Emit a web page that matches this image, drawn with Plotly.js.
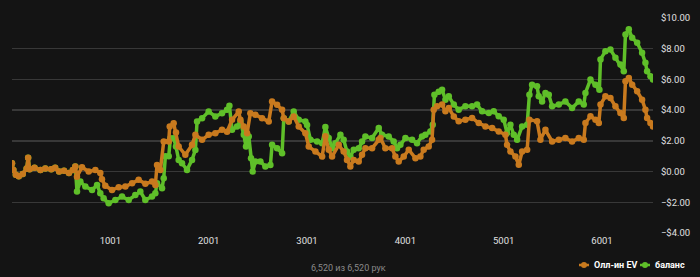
<!DOCTYPE html>
<html><head><meta charset="utf-8">
<script src="https://cdn.plot.ly/plotly-3.0.1.min.js"></script>
<style>html,body{margin:0;padding:0;background:#141414;}#chart{width:700px;height:277px;}</style>
</head><body><div id="chart"></div>
<script>
// Олл-ин EV (all-in EV)
const evHands = [1,15,40,70,110,150,165,180,230,290,340,400,440,480,530,580,620,645,662,713,781,849,899,916,950,1018,1086,1154,1222,1289,1357,1425,1459,1476,1510,1544,1595,1605,1645,1669,1696,1764,1832,1866,1934,2001,2069,2137,2188,2239,2307,2324,2358,2392,2425,2476,2544,2612,2646,2697,2748,2765,2815,2866,2917,2985,3019,3087,3155,3188,3222,3256,3324,3374,3408,3442,3476,3527,3561,3595,3663,3731,3748,3798,3866,3900,3934,3985,4036,4104,4154,4188,4239,4273,4290,4324,4375,4409,4443,4494,4544,4612,4680,4748,4816,4884,4951,5019,5036,5070,5121,5155,5189,5240,5263,5341,5375,5426,5494,5562,5629,5697,5765,5816,5833,5884,5935,5969,5986,6036,6087,6138,6189,6223,6240,6274,6308,6359,6409,6443,6460,6494,6520];
const evValues = [0.55,0.1,-0.2,-0.3,-0.15,0.2,0.9,0.15,0.25,0.1,0.2,0.15,0.25,0.0,0.05,-0.1,0.1,0.33,-0.33,0.28,0.0,0.1,-0.1,-0.5,-0.93,-1.2,-1.02,-0.98,-0.76,-0.54,-0.8,-0.65,-0.87,0.43,0.1,1.96,1.96,2.93,3.15,2.54,1.63,1.09,1.74,2.39,2.07,2.39,2.5,2.72,2.6,3.37,3.91,3.37,2.93,2.5,3.8,3.7,3.48,3.26,4.57,4.35,4.02,3.48,3.26,3.59,2.93,2.5,1.63,1.3,0.98,2.3,1.42,0.98,1.74,1.3,0.76,0.33,0.76,0.65,1.09,1.52,1.52,2.07,2.18,1.52,1.52,0.98,0.65,0.98,1.42,0.87,0.98,1.42,1.63,2.07,4.03,4.25,4.36,3.92,4.14,3.59,3.27,3.38,3.49,3.16,2.94,2.83,2.61,2.4,1.74,1.31,0.98,0.44,1.31,1.42,3.38,3.27,2.07,2.72,1.96,2.07,2.18,1.96,2.18,2.07,3.16,3.6,3.38,3.16,4.36,4.9,4.79,4.25,3.81,3.49,5.88,6.1,5.66,5.23,4.68,4.03,3.49,3.16,2.94];

// баланс (balance)
const balHands = [1,15,40,70,110,150,165,180,230,290,340,400,440,480,530,580,620,645,662,696,747,815,866,899,933,984,1052,1120,1188,1255,1306,1357,1425,1459,1476,1527,1544,1561,1595,1612,1645,1669,1696,1730,1781,1832,1866,1883,1934,2001,2069,2137,2188,2212,2239,2290,2324,2358,2381,2409,2432,2449,2476,2527,2578,2629,2646,2697,2748,2765,2815,2866,2917,2985,3002,3036,3104,3155,3188,3222,3256,3290,3341,3374,3408,3442,3476,3527,3561,3595,3663,3731,3764,3832,3883,3917,3951,4002,4070,4120,4171,4205,4256,4280,4297,4341,4375,4409,4443,4494,4544,4612,4680,4731,4782,4850,4900,4951,5002,5036,5070,5104,5138,5189,5240,5263,5290,5341,5358,5392,5426,5460,5494,5562,5629,5697,5765,5816,5833,5884,5935,5975,5986,6036,6087,6138,6189,6223,6240,6274,6308,6359,6409,6443,6460,6494,6520];
const balValues = [0.55,0.1,-0.2,-0.3,-0.15,0.2,0.9,0.15,0.25,0.1,0.2,0.15,0.25,0.0,0.05,-0.1,0.1,0.33,-1.3,-0.65,-0.98,-1.2,-0.87,-1.41,-1.74,-2.07,-1.85,-1.63,-1.85,-1.52,-1.3,-1.85,-1.63,-1.41,-0.76,-1.09,-0.43,1.0,1.0,2.17,2.17,1.63,0.76,0.54,0.11,0.76,1.41,3.26,3.48,3.91,3.59,3.8,4.02,4.28,2.72,2.93,3.26,2.39,1.63,2.28,0.87,0.0,0.65,0.65,0.33,0.43,1.74,1.52,1.2,3.48,3.26,3.91,3.37,3.26,3.04,2.07,1.96,1.85,2.9,2.18,1.52,1.85,2.4,2.07,1.3,0.98,1.42,1.52,1.96,2.29,2.18,2.83,2.4,2.29,1.96,1.52,1.74,2.18,2.07,1.85,2.29,2.4,2.61,3.05,5.0,5.2,5.33,4.68,4.9,4.36,4.03,4.25,4.25,4.36,3.92,3.81,3.92,3.6,3.38,2.5,3.05,2.4,2.07,2.94,3.05,5.0,5.66,5.55,4.9,4.57,5.12,5.01,4.25,4.36,4.57,4.14,4.57,4.36,5.12,5.99,5.66,5.33,7.3,7.84,7.95,7.41,6.97,6.54,8.93,9.26,8.71,8.39,7.73,7.08,6.54,6.21,6.0];

const xTicks = [1001,2001,3001,4001,5001,6001];
const seriesNames = ['Олл-ин EV','баланс'];
const footer = '6,520 из 6,520 рук';

const orange = '#c97a1e', green = '#5fbf29';
const traces = [
  {x: balHands, y: balValues, name: seriesNames[1], type: 'scatter', mode: 'lines+markers',
   line: {color: green, width: 3.5}, marker: {color: green, size: 6.5}},
  {x: evHands, y: evValues, name: seriesNames[0], type: 'scatter', mode: 'lines+markers',
   line: {color: orange, width: 3.5}, marker: {color: orange, size: 6.5}}
];

// custom compact legend (paper coordinates)
const W = 641, L = 12, PB = 233, PH = 215;
const px = v => (v - L) / W, py = v => (PB - v) / PH;
const legY = py(265);
const legendItems = [
  {name: seriesNames[0], color: orange, sym: 584, text: 592},
  {name: seriesNames[1], color: green, sym: 645, text: 653}
];
const shapes = [], annotations = [];
legendItems.forEach(it => {
  shapes.push({type: 'line', xref: 'paper', yref: 'paper', x0: px(it.sym - 5), x1: px(it.sym + 5),
               y0: legY, y1: legY, line: {color: it.color, width: 2.5}});
  shapes.push({type: 'circle', xref: 'paper', yref: 'paper', xsizemode: 'pixel', ysizemode: 'pixel',
               xanchor: px(it.sym), yanchor: legY, x0: -3, x1: 3, y0: -3, y1: 3,
               fillcolor: it.color, line: {width: 0}});
  annotations.push({text: '<b>' + it.name + '</b>', xref: 'paper', yref: 'paper', x: px(it.text), y: legY,
                    xanchor: 'left', yanchor: 'middle', showarrow: false,
                    font: {family: 'Roboto, sans-serif', size: 9, color: '#ffffff'}});
});
annotations.push({text: footer, xref: 'paper', yref: 'paper', x: px(348), y: py(268),
                  xanchor: 'center', yanchor: 'middle', showarrow: false,
                  font: {family: 'Roboto, sans-serif', size: 9, color: '#8a8a8a'}});

const layout = {
  width: 700, height: 277,
  paper_bgcolor: '#141414', plot_bgcolor: '#141414',
  margin: {l: 12, r: 47, t: 18, b: 44},
  font: {family: 'Roboto, Open Sans, sans-serif', color: '#d8d8d8', size: 9.5},
  showlegend: false,
  xaxis: {range: [1, 6520], tickvals: xTicks, ticktext: xTicks.map(String),
          showgrid: false, zeroline: false, showline: false, ticks: '',
          tickfont: {size: 9.5, color: '#e0e0e0'}},
  yaxis: {side: 'right', range: [-4, 10], dtick: 2, tick0: 0, tickformat: '$.2f',
          gridcolor: '#383838', gridwidth: 1.5, zeroline: false, showline: false,
          ticks: 'outside', ticklen: 5, tickcolor: 'rgba(0,0,0,0)',
          tickfont: {size: 9.5, color: '#e0e0e0'}},
  shapes: shapes,
  annotations: annotations
};
Plotly.newPlot('chart', traces, layout, {displayModeBar: false, staticPlot: true});
</script></body></html>
